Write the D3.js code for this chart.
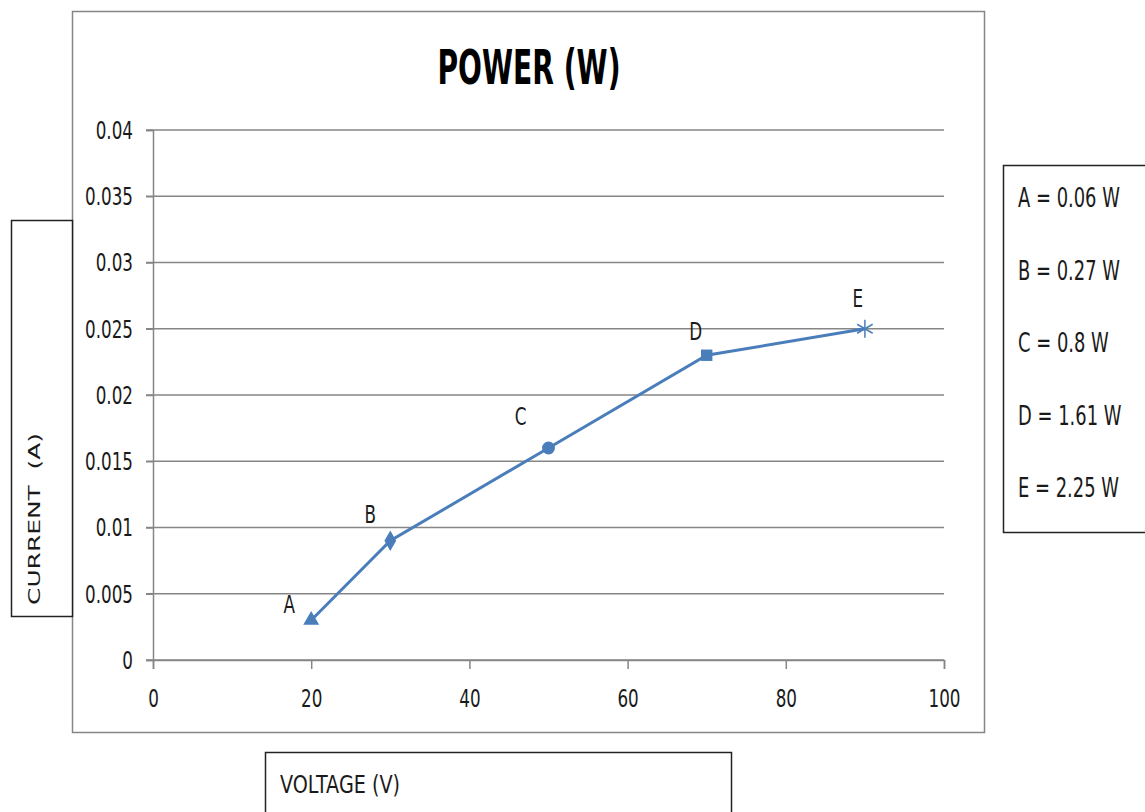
<!DOCTYPE html>
<html><head><meta charset="utf-8">
<script src="https://cdn.jsdelivr.net/npm/d3@7"></script>
<style>
body{margin:0;background:#fff;}
</style></head>
<body><svg id="c" width="1145" height="812"></svg>
<script>
const pointLabels = ["A","B","C","D","E"];
const voltage = [20, 30, 50, 70, 90];
const current = [0.003, 0.009, 0.016, 0.023, 0.025];
const markers = ["triangle","diamond","circle","square","asterisk"];
const legendItems = ["A = 0.06 W","B = 0.27 W","C = 0.8 W","D = 1.61 W","E = 2.25 W"];
const xTicks = [0,20,40,60,80,100];
const yTicks = [0,0.005,0.01,0.015,0.02,0.025,0.03,0.035,0.04];
// layout: label offsets from each point (px)
const labelOffsets = [[-22,-7],[-20,-18],[-28,-23],[-11,-15],[-7,-22]];

const FONT = "'DejaVu Sans',Arial,sans-serif";
const svg = d3.select("#c");
const col = "#4a7ebb";
const gray = "#868686";

function natWidth(str, size, weight){
  const t = svg.append("text").attr("font-family",FONT).attr("font-size",size)
    .attr("font-weight",weight||"normal").text(str);
  const w = t.node().getComputedTextLength(); t.remove(); return w;
}
function condense(sel, size, refStr, refW, weight){
  const f = refW / natWidth(refStr, size, weight);
  sel.each(function(){
    const w = this.getComputedTextLength();
    d3.select(this).attr("textLength", w*f).attr("lengthAdjust","spacingAndGlyphs");
  });
  return f;
}

// outer chart frame
svg.append("rect").attr("x",72.5).attr("y",11.5).attr("width",912).attr("height",721)
  .attr("fill","#fff").attr("stroke",gray).attr("stroke-width",1.5);

const x = d3.scaleLinear().domain([0,100]).range([153,944]);
const y = d3.scaleLinear().domain([0,0.04]).range([660,130]);

// gridlines
svg.append("g").selectAll("line").data(yTicks).join("line")
  .attr("x1",146).attr("x2",944).attr("y1",d=>y(d)).attr("y2",d=>y(d))
  .attr("stroke",gray).attr("stroke-width",1.5);

// y axis
const ya = svg.append("g").attr("transform","translate(153,0)")
  .call(d3.axisLeft(y).tickValues(yTicks).tickSize(7).tickFormat(d=>d===0?"0":String(+d.toFixed(3))));
ya.select(".domain").attr("stroke",gray).attr("stroke-width",1.5);
ya.selectAll(".tick line").attr("stroke",gray).attr("stroke-width",1.5);
const yt = ya.selectAll("text").attr("font-size",24.5).attr("font-family",FONT).attr("fill","#1a1a1a")
  .attr("dy","0.34em");
condense(yt, 24.5, "0.035", 48);
yt.attr("text-anchor","end").attr("x",-20);

// x axis
const xa = svg.append("g").attr("transform","translate(0,660)")
  .call(d3.axisBottom(x).tickValues(xTicks).tickSize(9).tickFormat(d3.format("d")));
xa.select(".domain").attr("stroke",gray).attr("stroke-width",1.5);
xa.selectAll(".tick line").attr("stroke",gray).attr("stroke-width",1.5);
const xt = xa.selectAll("text").attr("font-size",24.5).attr("font-family",FONT).attr("fill","#1a1a1a")
  .attr("y",47).attr("dy",0);
condense(xt, 24.5, "0.035", 48);

// title
const title = svg.append("text").attr("x",529).attr("y",84).attr("text-anchor","middle")
  .attr("font-family",FONT).attr("font-size",48).attr("font-weight","bold").attr("fill","#000").text("POWER (W)");
condense(title, 48, "POWER (W)", 183, "bold");

// line
const pts = voltage.map((v,i)=>({x:v,y:current[i],lab:pointLabels[i],m:markers[i],off:labelOffsets[i]}));
svg.append("path").datum(pts)
  .attr("d",d3.line().x(d=>x(d.x)).y(d=>y(d.y)))
  .attr("fill","none").attr("stroke",col).attr("stroke-width",3);

// markers + labels
const symMap = {triangle:d3.symbolTriangle, diamond:d3.symbolDiamond, circle:d3.symbolCircle, square:d3.symbolSquare};
const labSel = [];
pts.forEach(p=>{
  const cx=x(p.x), cy=y(p.y);
  if(p.m==="asterisk"){
    const g=svg.append("g").attr("transform",`translate(${cx},${cy})`);
    [30,90,150].forEach(a=>{
      const r=a*Math.PI/180;
      g.append("line").attr("x1",-9*Math.cos(r)).attr("y1",-9*Math.sin(r))
        .attr("x2",9*Math.cos(r)).attr("y2",9*Math.sin(r))
        .attr("stroke",col).attr("stroke-width",1.5);
    });
  } else {
    svg.append("path").attr("transform",`translate(${cx},${cy})`)
      .attr("d",d3.symbol().type(symMap[p.m]).size(p.m==="diamond"?120:p.m==="triangle"?110:130)())
      .attr("fill",col);
  }
  labSel.push(svg.append("text").attr("x",cx+p.off[0]).attr("y",cy+p.off[1]).attr("text-anchor","middle")
    .attr("font-family",FONT).attr("font-size",24.5).attr("fill","#1a1a1a").text(p.lab).node());
});
condense(d3.selectAll(labSel), 24.5, "0.035", 48);

// y label box
svg.append("rect").attr("x",11.5).attr("y",220.5).attr("width",61).attr("height",396)
  .attr("fill","#fff").attr("stroke","#222").attr("stroke-width",1.5);
svg.append("text").attr("transform","translate(40,519) rotate(-90)").attr("text-anchor","middle")
  .attr("font-size",16.5).attr("font-family",FONT).attr("fill","#1a1a1a")
  .attr("textLength",172).attr("lengthAdjust","spacingAndGlyphs")
  .attr("xml:space","preserve").text("CURRENT  (A)");

// legend box
svg.append("rect").attr("x",1003.5).attr("y",165.5).attr("width",150).attr("height",367)
  .attr("fill","#fff").attr("stroke","#222").attr("stroke-width",1.5);
const lf = 102 / natWidth("A = 0.06 W", 26);
svg.append("g").selectAll("text").data(legendItems).join("text")
  .attr("transform",(d,i)=>`translate(1018,${207+i*72.5}) scale(${lf},1)`)
  .attr("font-family",FONT).attr("font-size",26)
  .attr("fill","#1a1a1a").text(d=>d);

// x label box
svg.append("rect").attr("x",265.5).attr("y",752.5).attr("width",466).attr("height",80)
  .attr("fill","#fff").attr("stroke","#222").attr("stroke-width",1.5);
const xl = svg.append("text").attr("x",280).attr("y",793).attr("font-family",FONT).attr("font-size",24)
  .attr("fill","#1a1a1a").text("VOLTAGE (V)");
condense(xl, 24, "VOLTAGE (V)", 120);
</script></body></html>
